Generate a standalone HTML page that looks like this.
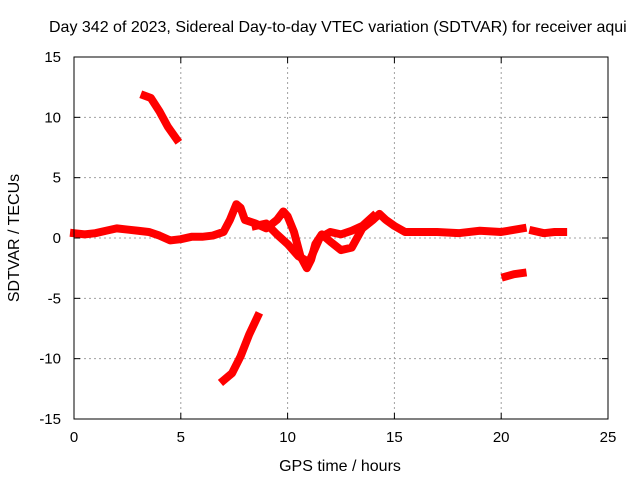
<!DOCTYPE html>
<html><head><meta charset="utf-8"><style>
body{margin:0;background:#fff;}
svg text{font-family:"Liberation Sans",sans-serif;font-size:15px;fill:#000;}
svg text.big{font-size:16px;}
</style></head><body>
<svg id="chart" width="640" height="480" xmlns="http://www.w3.org/2000/svg">
<rect width="640" height="480" fill="#fff"/>
<text class="big" x="49" y="32">Day 342 of 2023, Sidereal Day-to-day VTEC variation (SDTVAR) for receiver aqui</text>
<g id="grid"></g>
<g id="series"></g>
<rect x="74" y="57" width="534" height="362" fill="none" stroke="#000" stroke-width="1"/>
<g id="ticks"></g>
<text class="big" x="340" y="471" text-anchor="middle">GPS time / hours</text>
<text class="big" transform="translate(19,238) rotate(-90)" text-anchor="middle">SDTVAR / TECUs</text>
</svg>
<script>
const xTicks=[0,5,10,15,20,25];
const yTicks=[-15,-10,-5,0,5,10,15];
const mainT=[0,0.5,1,1.5,2,2.5,3,3.5,4,4.5,5,5.5,6,6.5,7,7.3,7.6,7.8,8,8.5,9,9.5,9.8,10,10.3,10.6,10.9,11.1,11.3,11.6,12,12.5,13,13.5,14,14.3,14.6,15,15.5,16,17,18,19,20,21];
const mainV=[0.4,0.3,0.4,0.6,0.8,0.7,0.6,0.5,0.2,-0.2,-0.1,0.1,0.1,0.2,0.5,1.5,2.8,2.5,1.5,1.2,0.8,1.5,2.2,1.8,0.5,-1.5,-2.5,-1.8,-0.5,0.3,-0.3,-1,-0.8,0.8,1.5,2,1.5,1,0.5,0.5,0.5,0.4,0.6,0.5,0.8];
const strand2T=[8.5,9,9.5,10,10.5,11,11.5,12,12.5,13,13.5,14];
const strand2V=[1.0,1.2,0.3,-0.5,-1.5,-2,0,0.5,0.3,0.6,1.0,1.8];
const tailT=[21.5,22,22.5,22.9];
const tailV=[0.6,0.4,0.5,0.5];
const segAT=[3.3,3.6,4,4.4,4.8];
const segAV=[11.8,11.6,10.5,9.2,8.2];
const segBT=[7.0,7.4,7.8,8.2,8.6];
const segBV=[-11.8,-11.2,-9.8,-8.0,-6.5];
const segCT=[20.2,20.6,21];
const segCV=[-3.2,-3.0,-2.9];
const NS="http://www.w3.org/2000/svg";
const X0=74,X1=608,Y0=419,Y1=57;
const sx=t=>X0+(t-0)/(25-0)*(X1-X0);
const sy=v=>Y0-(v+15)/30*(Y0-Y1);
const grid=document.getElementById('grid'),ticks=document.getElementById('ticks'),ser=document.getElementById('series');
function mk(tag,a,p){const e=document.createElementNS(NS,tag);for(const k in a)e.setAttribute(k,a[k]);p.appendChild(e);return e;}
xTicks.forEach(t=>{const x=sx(t);
 if(t>0&&t<25){const l=mk('line',{x1:x,x2:x,y1:Y0,y2:Y1,stroke:'#a0a0a0','stroke-dasharray':'2,3'},grid);
 }
 mk('line',{x1:x,x2:x,y1:Y0,y2:Y0-6,stroke:'#000'},ticks);mk('line',{x1:x,x2:x,y1:Y1,y2:Y1+6,stroke:'#000'},ticks);
 const tx=mk('text',{x:x,y:Y0+23,'text-anchor':'middle'},ticks);tx.textContent=t;
 });
yTicks.forEach(v=>{const y=sy(v);
 if(v>-15&&v<15){const l=mk('line',{x1:X0,x2:X1,y1:y,y2:y,stroke:'#a0a0a0','stroke-dasharray':'2,3'},grid);
 }
 mk('line',{x1:X0,x2:X0+6,y1:y,y2:y,stroke:'#000'},ticks);mk('line',{x1:X1,x2:X1-6,y1:y,y2:y,stroke:'#000'},ticks);
 const tx=mk('text',{x:X0-13,y:y+5,'text-anchor':'end'},ticks);tx.textContent=v;
 });
function seg(T,V,name){const pts=T.map((t,i)=>sx(t)+','+sy(V[i])).join(' ');
 const p=mk('polyline',{points:pts,fill:'none',stroke:'#f00','stroke-width':8,'stroke-linejoin':'round','stroke-linecap':'square'},ser);
 }
seg(mainT,mainV,'main-band');seg(strand2T,strand2V,'second-strand');seg(tailT,tailV,'tail-band');
seg(segAT,segAV,'upper-segment');seg(segBT,segBV,'lower-segment');seg(segCT,segCV,'small-segment');
</script>
</body></html>
